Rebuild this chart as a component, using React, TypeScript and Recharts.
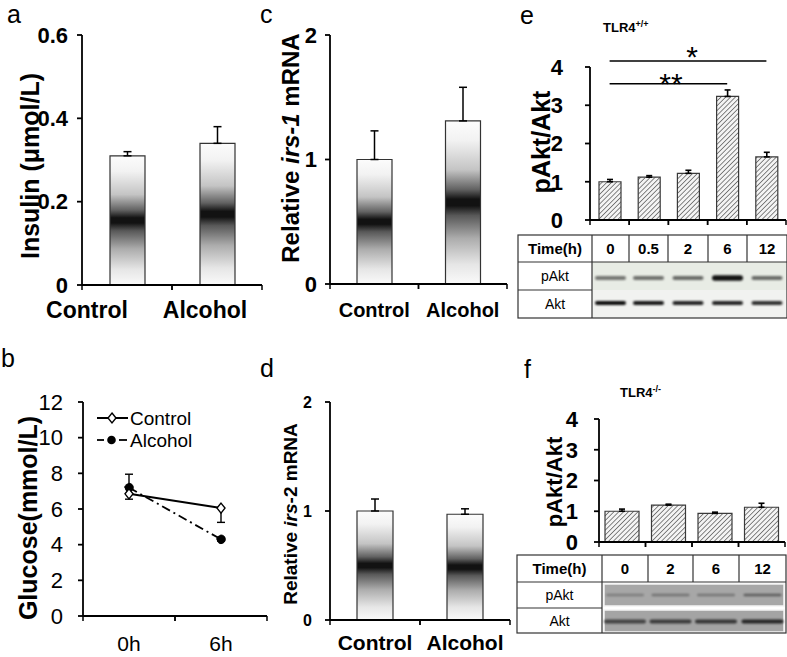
import React from 'react';
import { BarChart, Bar, XAxis, YAxis, ErrorBar, LineChart, Line, ReferenceLine } from 'recharts';

const FONT = '"Liberation Sans", Arial, Helvetica, sans-serif';
const W = 787;
const H = 657;
const YW = 40;
const XH = 30;

// ---------- data ----------
const groups = ['Control', 'Alcohol'];
const insulin = [0.31, 0.34];
const insulinErr = [0.01, 0.04];
const insulinTicks = [0, 0.2, 0.4, 0.6];

const irs1 = [1.0, 1.31];
const irs1Err = [0.23, 0.27];
const irs2 = [1.0, 0.97];
const irs2Err = [0.11, 0.05];
const mrnaTicks = [0, 1, 2];

const glucoseTimes = ['0h', '6h'];
const glucoseControl = [6.85, 6.05];
const glucoseControlErrLow = [0.3, 0.8];
const glucoseControlErrHigh = [0.3, 0];
const glucoseAlcohol = [7.2, 4.3];
const glucoseAlcoholErrLow = [0, 0.1];
const glucoseAlcoholErrHigh = [0.75, 0.1];
const glucoseTicks = [0, 2, 4, 6, 8, 10, 12];

const wtTimes = ['0', '0.5', '2', '6', '12'];
const wtRatio = [1.0, 1.12, 1.22, 3.23, 1.65];
const wtErr = [0.06, 0.04, 0.08, 0.17, 0.12];
const koTimes = ['0', '2', '6', '12'];
const koRatio = [1.0, 1.2, 0.93, 1.13];
const koErr = [0.07, 0.03, 0.04, 0.13];
const aktTicks = [0, 1, 2, 3, 4];

// blot band intensities (0..1)
const wtPAkt = [0.5, 0.52, 0.55, 0.92, 0.55];
const wtAkt = [0.95, 0.9, 0.85, 0.85, 0.8];
const koPAkt = [0.25, 0.32, 0.3, 0.45];
const koAkt = [0.6, 0.65, 0.68, 0.78];

// ---------- helpers ----------
const frame = (l: number, t: number, r: number, b: number) => ({
  left: l - YW,
  top: t,
  right: W - r,
  bottom: H - b - XH,
});

const barData = (vals: number[], errs: number[], names: string[]) =>
  names.map((n, i) => ({ name: n, v: vals[i], err: [0, errs[i]] }));

const glucoseData = glucoseTimes.map((t, i) => ({
  name: t,
  control: glucoseControl[i],
  controlErr: [glucoseControlErrLow[i], glucoseControlErrHigh[i]],
  alcohol: glucoseAlcohol[i],
  alcoholErr: [glucoseAlcoholErrLow[i], glucoseAlcoholErrHigh[i]],
}));

const makeXTick = (o: {
  axisY: number;
  half: number;
  labels: boolean;
  size?: number;
  weight?: number | string;
  baseline?: number;
  dx?: number[];
}) => (props: any) => {
  const { x, payload, index } = props;
  return (
    <g>
      <line x1={x - o.half} x2={x - o.half} y1={o.axisY} y2={o.axisY + 5} stroke="#000" strokeWidth={1.5} />
      <line x1={x + o.half} x2={x + o.half} y1={o.axisY} y2={o.axisY + 5} stroke="#000" strokeWidth={1.5} />
      {o.labels ? (
        <text
          x={x + (o.dx ? o.dx[index] || 0 : 0)}
          y={o.baseline}
          textAnchor="middle"
          fontSize={o.size}
          fontWeight={o.weight}
          fontFamily={FONT}
          fill="#000"
        >
          {payload.value}
        </text>
      ) : null}
    </g>
  );
};

const yLabel = (content: React.ReactNode, bx: number, cy: number, size: number, weight: number | string) => ({
  content: () => (
    <text
      transform={`translate(${bx},${cy}) rotate(-90)`}
      textAnchor="middle"
      fontSize={size}
      fontWeight={weight}
      fontFamily={FONT}
      fill="#000"
    >
      {content}
    </text>
  ),
});

const axisStyle = { stroke: '#000', strokeWidth: 1.8 };
const tickFont = (size: number, weight: number | string) => ({
  fontSize: size,
  fontWeight: weight,
  fill: '#000',
  fontFamily: FONT,
});

const Abs: React.FC<{ children: React.ReactNode }> = ({ children }) => (
  <div style={{ position: 'absolute', left: 0, top: 0 }}>{children}</div>
);

const Band = ({ cx, cy, w, h, k }: { cx: number; cy: number; w: number; h: number; k: number }) => (
  <rect x={cx - w / 2} y={cy - h / 2} width={w} height={h} rx={h / 2} fill={`rgba(0,0,0,${k})`} filter="url(#blotBlur)" />
);

const Diamond = (props: any) => {
  const { cx, cy } = props;
  if (cx == null || cy == null) return null;
  return (
    <path
      d={`M${cx},${cy - 5} L${cx + 4},${cy} L${cx},${cy + 5} L${cx - 4},${cy} Z`}
      fill="#fff"
      stroke="#000"
      strokeWidth={1.4}
    />
  );
};

export default function App() {
  // table geometry (annotations)
  const eCols = [518, 592, 629, 668, 708, 747, 787];
  const eRows = [235, 262, 290, 318];
  const fCols = [517, 602, 648, 693, 739, 786];
  const fRows = [555, 582, 608, 633];
  const eCenters = eCols.slice(1, -1).map((c, i) => (c + eCols[i + 2]) / 2);
  const fCenters = fCols.slice(1, -1).map((c, i) => (c + fCols[i + 2]) / 2);

  return (
    <div style={{ position: 'absolute', left: 0, top: 0, width: W, height: H, background: '#fff', overflow: 'hidden' }}>
      <svg width={0} height={0} style={{ position: 'absolute' }}>
        <defs>
          <linearGradient id="shade" x1="0" y1="0" x2="0" y2="1">
            <stop offset="0" stopColor="#fcfcfc" />
            <stop offset="0.12" stopColor="#f2f2f2" />
            <stop offset="0.3" stopColor="#c4c4c4" />
            <stop offset="0.42" stopColor="#626262" />
            <stop offset="0.48" stopColor="#121212" />
            <stop offset="0.52" stopColor="#121212" />
            <stop offset="0.58" stopColor="#585858" />
            <stop offset="0.72" stopColor="#acacac" />
            <stop offset="0.88" stopColor="#e6e6e6" />
            <stop offset="1" stopColor="#fafafa" />
          </linearGradient>
          <pattern id="hatch" patternUnits="userSpaceOnUse" width="3.4" height="3.4" patternTransform="rotate(45)">
            <rect width="3.4" height="3.4" fill="#f4f4f4" />
            <line x1="0" y1="0" x2="0" y2="3.4" stroke="#5e5e5e" strokeWidth="1.5" />
          </pattern>
          <filter id="blotBlur" x="-20%" y="-150%" width="140%" height="400%">
            <feGaussianBlur stdDeviation="1.1" />
          </filter>
        </defs>
      </svg>

      {/* a: insulin */}
      <Abs>
        <BarChart width={W} height={H} data={barData(insulin, insulinErr, groups)} margin={frame(82, 35, 262, 285)}>
          <XAxis
            dataKey="name"
            height={XH}
            axisLine={axisStyle}
            tickLine={false}
            tickSize={0}
            tickMargin={0}
            interval={0}
            tick={makeXTick({ axisY: 285, half: 45, labels: true, size: 23, weight: 700, baseline: 318, dx: [-40, -12] })}
          />
          <YAxis
            width={YW}
            domain={[0, 0.6]}
            ticks={insulinTicks}
            interval={0}
            axisLine={axisStyle}
            tickLine={axisStyle}
            tickSize={5}
            tickMargin={9}
            tick={tickFont(22, 700)}
            label={yLabel('Insulin (μmol/L)', 39, 166, 25, 700)}
          />
          <Bar dataKey="v" fill="url(#shade)" stroke="#333" strokeWidth={1.2} barSize={35} isAnimationActive={false}>
            <ErrorBar dataKey="err" width={4} stroke="#000" strokeWidth={1.5} />
          </Bar>
        </BarChart>
      </Abs>

      {/* c: irs-1 */}
      <Abs>
        <BarChart width={W} height={H} data={barData(irs1, irs1Err, groups)} margin={frame(330, 35, 507, 284)}>
          <XAxis
            dataKey="name"
            height={XH}
            axisLine={axisStyle}
            tickLine={false}
            tickSize={0}
            tickMargin={0}
            interval={0}
            tick={makeXTick({ axisY: 284, half: 44.25, labels: true, size: 20, weight: 700, baseline: 317 })}
          />
          <YAxis
            width={YW}
            domain={[0, 2]}
            ticks={mrnaTicks}
            interval={0}
            axisLine={axisStyle}
            tickLine={axisStyle}
            tickSize={5}
            tickMargin={8}
            tick={tickFont(22, 700)}
            label={yLabel(
              <>
                Relative <tspan fontStyle="italic">irs-1</tspan> mRNA
              </>,
              299,
              148,
              24,
              700
            )}
          />
          <Bar dataKey="v" fill="url(#shade)" stroke="#333" strokeWidth={1.2} barSize={35} isAnimationActive={false}>
            <ErrorBar dataKey="err" width={4} stroke="#000" strokeWidth={1.5} />
          </Bar>
        </BarChart>
      </Abs>

      {/* b: glucose */}
      <Abs>
        <LineChart width={W} height={H} data={glucoseData} margin={frame(83, 402, 267, 616)}>
          <XAxis
            dataKey="name"
            height={XH}
            padding={{ left: 46, right: 46 }}
            axisLine={axisStyle}
            tickLine={false}
            tickSize={0}
            tickMargin={0}
            interval={0}
            tick={makeXTick({ axisY: 616, half: 46, labels: true, size: 21, weight: 400, baseline: 651 })}
          />
          <YAxis
            width={YW}
            domain={[0, 12]}
            ticks={glucoseTicks}
            interval={0}
            axisLine={axisStyle}
            tickLine={axisStyle}
            tickSize={5}
            tickMargin={15}
            tick={tickFont(22, 400)}
            label={yLabel('Glucose(mmol/L)', 37, 518, 25, 700)}
          />
          <Line
            dataKey="alcohol"
            stroke="#000"
            strokeWidth={1.8}
            strokeDasharray="9 4 2 4"
            dot={{ r: 4.3, fill: '#000', stroke: '#000', strokeWidth: 1 }}
            isAnimationActive={false}
          >
            <ErrorBar dataKey="alcoholErr" width={4} stroke="#000" strokeWidth={1.4} direction="y" />
          </Line>
          <Line dataKey="control" stroke="#000" strokeWidth={2} dot={<Diamond />} isAnimationActive={false}>
            <ErrorBar dataKey="controlErr" width={4} stroke="#000" strokeWidth={1.4} direction="y" />
          </Line>
        </LineChart>
      </Abs>

      {/* d: irs-2 */}
      <Abs>
        <BarChart width={W} height={H} data={barData(irs2, irs2Err, groups)} margin={frame(330, 402, 510, 620)}>
          <XAxis
            dataKey="name"
            height={XH}
            axisLine={axisStyle}
            tickLine={false}
            tickSize={0}
            tickMargin={0}
            interval={0}
            tick={makeXTick({ axisY: 620, half: 45, labels: true, size: 21, weight: 700, baseline: 650 })}
          />
          <YAxis
            width={YW}
            domain={[0, 2]}
            ticks={mrnaTicks}
            interval={0}
            axisLine={axisStyle}
            tickLine={axisStyle}
            tickSize={5}
            tickMargin={13}
            tick={tickFont(16, 700)}
            label={yLabel(
              <>
                Relative <tspan fontStyle="italic">irs</tspan>-2 mRNA
              </>,
              297,
              514,
              19,
              700
            )}
          />
          <Bar dataKey="v" fill="url(#shade)" stroke="#333" strokeWidth={1.2} barSize={36} isAnimationActive={false}>
            <ErrorBar dataKey="err" width={4} stroke="#000" strokeWidth={1.5} />
          </Bar>
        </BarChart>
      </Abs>

      {/* e: TLR4+/+ */}
      <Abs>
        <BarChart width={W} height={H} data={barData(wtRatio, wtErr, wtTimes)} margin={frame(590, 67, 786, 220)}>
          <XAxis
            dataKey="name"
            height={XH}
            axisLine={axisStyle}
            tickLine={false}
            tickSize={0}
            tickMargin={0}
            interval={0}
            tick={makeXTick({ axisY: 220, half: 19.6, labels: false })}
          />
          <YAxis
            width={YW}
            domain={[0, 4]}
            ticks={aktTicks}
            interval={0}
            allowDataOverflow
            axisLine={axisStyle}
            tickLine={axisStyle}
            tickSize={5}
            tickMargin={22}
            tick={tickFont(22, 700)}
            label={yLabel('pAkt/Akt', 550, 142, 25, 700)}
          />
          <ReferenceLine
            segment={[{ x: '0', y: 4.16 }, { x: '12', y: 4.16 }]}
            stroke="#000"
            strokeWidth={1.5}
            ifOverflow="visible"
          />
          <ReferenceLine
            segment={[{ x: '0', y: 3.56 }, { x: '6', y: 3.56 }]}
            stroke="#000"
            strokeWidth={1.5}
            ifOverflow="visible"
          />
          <Bar dataKey="v" fill="url(#hatch)" stroke="#3a3a3a" strokeWidth={1.2} barSize={22} isAnimationActive={false}>
            <ErrorBar dataKey="err" width={3} stroke="#000" strokeWidth={1.6} />
          </Bar>
        </BarChart>
      </Abs>

      {/* f: TLR4-/- */}
      <Abs>
        <BarChart width={W} height={H} data={barData(koRatio, koErr, koTimes)} margin={frame(599, 419, 785, 542)}>
          <XAxis
            dataKey="name"
            height={XH}
            axisLine={axisStyle}
            tickLine={false}
            tickSize={0}
            tickMargin={0}
            interval={0}
            tick={makeXTick({ axisY: 542, half: 23.25, labels: false })}
          />
          <YAxis
            width={YW}
            domain={[0, 4]}
            ticks={aktTicks}
            interval={0}
            axisLine={axisStyle}
            tickLine={axisStyle}
            tickSize={5}
            tickMargin={16}
            tick={tickFont(22, 700)}
            label={yLabel('pAkt/Akt', 562, 482, 22, 700)}
          />
          <Bar dataKey="v" fill="url(#hatch)" stroke="#3a3a3a" strokeWidth={1.2} barSize={34} isAnimationActive={false}>
            <ErrorBar dataKey="err" width={3} stroke="#000" strokeWidth={1.6} />
          </Bar>
        </BarChart>
      </Abs>

      {/* annotations: letters, legend, titles, tables, blots */}
      <svg width={W} height={H} style={{ position: 'absolute', left: 0, top: 0 }} fontFamily={FONT}>
        <g fontSize={25} fill="#000">
          <text x={7} y={23}>a</text>
          <text x={260} y={23}>c</text>
          <text x={520} y={24}>e</text>
          <text x={1} y={367}>b</text>
          <text x={260} y={377}>d</text>
          <text x={524} y={378}>f</text>
        </g>

        {/* legend b */}
        <line x1={97} x2={128} y1={418} y2={418} stroke="#000" strokeWidth={2} />
        <Diamond cx={112} cy={418} />
        <text x={130} y={425} fontSize={19} fill="#000">Control</text>
        <line x1={97} x2={104} y1={440} y2={440} stroke="#000" strokeWidth={1.8} />
        <line x1={119} x2={127} y1={440} y2={440} stroke="#000" strokeWidth={1.8} />
        <circle cx={111.5} cy={440} r={4.3} fill="#000" />
        <text x={130} y={447} fontSize={19} fill="#000">Alcohol</text>

        {/* titles */}
        <text x={603} y={32} fontSize={13} fontWeight={700} fill="#000">
          TLR4<tspan fontSize={9} dy={-5}>+/+</tspan>
        </text>
        <text x={620} y={397} fontSize={13} fontWeight={700} fill="#000">
          TLR4<tspan fontSize={9} dy={-5}>-/-</tspan>
        </text>

        {/* significance */}
        <text x={692} y={67} fontSize={30} textAnchor="middle" fill="#000">*</text>
        <text x={671} y={94} fontSize={30} textAnchor="middle" fill="#000">**</text>

        {/* table e */}
        <rect x={eCols[1]} y={eRows[1]} width={eCols[6] - eCols[1]} height={eRows[2] - eRows[1]} fill="#e8ece5" />
        <rect x={eCols[1]} y={eRows[2]} width={eCols[6] - eCols[1]} height={eRows[3] - eRows[2]} fill="#f1f2f0" />
        {eCenters.map((cx, i) => (
          <Band key={'ep' + i} cx={cx} cy={278} w={31} h={i === 3 ? 5.5 : 4} k={wtPAkt[i]} />
        ))}
        {eCenters.map((cx, i) => (
          <Band key={'ea' + i} cx={cx} cy={303} w={31} h={4} k={wtAkt[i]} />
        ))}
        <g stroke="#333" strokeWidth={1.2} fill="none">
          <rect x={eCols[0]} y={eRows[0]} width={eCols[6] - eCols[0]} height={eRows[3] - eRows[0]} />
          <line x1={eCols[0]} x2={eCols[6]} y1={eRows[1]} y2={eRows[1]} />
          <line x1={eCols[0]} x2={eCols[1]} y1={eRows[2]} y2={eRows[2]} />
          <line x1={eCols[1]} x2={eCols[1]} y1={eRows[0]} y2={eRows[3]} />
          {eCols.slice(2, -1).map((c) => (
            <line key={'ec' + c} x1={c} x2={c} y1={eRows[0]} y2={eRows[1]} />
          ))}
        </g>
        <g fill="#000" textAnchor="middle">
          <text x={(eCols[0] + eCols[1]) / 2} y={254} fontSize={15} fontWeight={700}>Time(h)</text>
          {wtTimes.map((t, i) => (
            <text key={'et' + t} x={eCenters[i]} y={254} fontSize={15} fontWeight={700}>{t}</text>
          ))}
          <text x={(eCols[0] + eCols[1]) / 2} y={281} fontSize={14}>pAkt</text>
          <text x={(eCols[0] + eCols[1]) / 2} y={309} fontSize={14}>Akt</text>
        </g>

        {/* table f */}
        <rect x={604} y={584} width={180} height={22} fill="#a7a7a7" stroke="#f4f4f4" strokeWidth={1.5} />
        <rect x={604} y={610} width={180} height={22} fill="#a4a4a4" stroke="#f4f4f4" strokeWidth={1.5} />
        {fCenters.map((cx, i) => (
          <Band key={'fp' + i} cx={cx} cy={595} w={38} h={2.5} k={koPAkt[i]} />
        ))}
        {fCenters.map((cx, i) => (
          <Band key={'fa' + i} cx={cx} cy={621.5} w={42} h={4} k={koAkt[i]} />
        ))}
        <g stroke="#333" strokeWidth={1.2} fill="none">
          <rect x={fCols[0]} y={fRows[0]} width={fCols[5] - fCols[0]} height={fRows[3] - fRows[0]} />
          <line x1={fCols[0]} x2={fCols[5]} y1={fRows[1]} y2={fRows[1]} />
          <line x1={fCols[0]} x2={fCols[1]} y1={fRows[2]} y2={fRows[2]} />
          <line x1={fCols[1]} x2={fCols[1]} y1={fRows[0]} y2={fRows[3]} />
          {fCols.slice(2, -1).map((c) => (
            <line key={'fc' + c} x1={c} x2={c} y1={fRows[0]} y2={fRows[1]} />
          ))}
        </g>
        <g fill="#000" textAnchor="middle">
          <text x={(fCols[0] + fCols[1]) / 2} y={574} fontSize={15} fontWeight={700}>Time(h)</text>
          {koTimes.map((t, i) => (
            <text key={'ft' + t} x={fCenters[i]} y={574} fontSize={15} fontWeight={700}>{t}</text>
          ))}
          <text x={(fCols[0] + fCols[1]) / 2} y={600} fontSize={14}>pAkt</text>
          <text x={(fCols[0] + fCols[1]) / 2} y={626} fontSize={14}>Akt</text>
        </g>
      </svg>
    </div>
  );
}
